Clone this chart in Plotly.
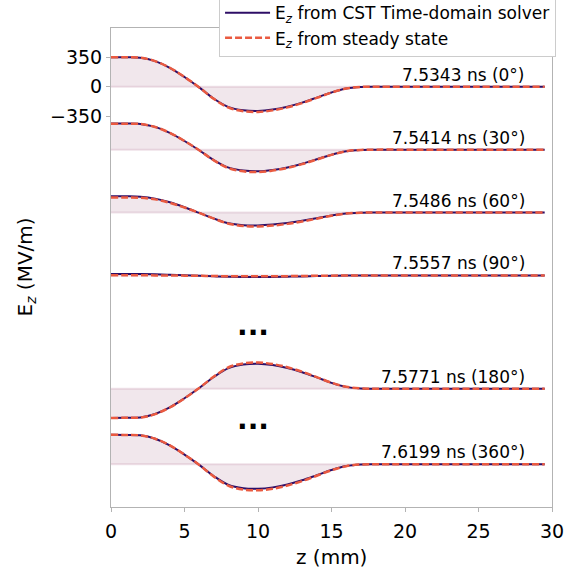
import plotly.graph_objects as go

# Axial position along the cavity (mm)
z_mm = [0, 1, 2, 3, 4, 5, 6, 7, 8, 9, 10, 11, 12, 13, 14, 15, 16, 17, 18, 20, 25, 29.5]

# Snapshot labels and vertical offsets used to stack the curves (MV/m)
snapshot_labels = ["7.5343 ns (0°)", "7.5414 ns (30°)", "7.5486 ns (60°)",
                   "7.5557 ns (90°)", "7.5771 ns (180°)", "7.6199 ns (360°)"]
stack_offsets = [0, -750, -1500, -2250, -3600, -4500]

# E_z from the CST time-domain solver (MV/m)
ez_cst_0 = [350, 350, 345, 305, 226, 116, -8, -143, -243, -280, -288, -272, -238, -190, -130, -68, -21, -3, 0, 0, 0, 0]
ez_cst_30 = [312, 311, 306, 271, 201, 103, -7, -126, -215, -249, -258, -242, -212, -168, -115, -60, -19, -3, 0, 0, 0, 0]
ez_cst_60 = [195, 194, 189, 166, 122, 63, -4, -72, -128, -150, -153, -143, -125, -99, -67, -35, -11, -2, 0, 0, 0, 0]
ez_cst_90 = [18, 18, 17, 14, 9, 3, -4, -10, -15, -18, -18, -17, -14, -11, -7, -4, -1, 0, 0, 0, 0, 0]
ez_cst_180 = [-348, -347, -342, -302, -223, -114, 8, 140, 245, 288, 298, 282, 247, 197, 135, 70, 22, 3, 0, 0, 0, 0]
ez_cst_360 = [350, 349, 344, 304, 225, 115, -8, -143, -247, -286, -292, -276, -241, -192, -131, -69, -22, -3, 0, 0, 0, 0]

# E_z from the steady-state field (MV/m)
ez_ss_0 = [350, 350, 345, 305, 226, 116, -8, -145, -250, -292, -301, -282, -246, -195, -133, -70, -22, -3, 0, 0, 0, 0]
ez_ss_30 = [310, 309, 305, 270, 200, 103, -7, -128, -221, -259, -267, -250, -218, -173, -118, -62, -19, -3, 0, 0, 0, 0]
ez_ss_60 = [180, 179, 176, 157, 116, 60, -4, -73, -133, -160, -165, -155, -135, -107, -73, -38, -12, -2, 0, 0, 0, 0]
ez_ss_90 = [2, 2, 2, 1, 0, -2, -4, -7, -9, -10, -10, -9, -8, -6, -4, -2, -1, 0, 0, 0, 0, 0]
ez_ss_180 = [-348, -347, -343, -303, -224, -115, 8, 145, 256, 302, 312, 294, 256, 203, 138, 72, 23, 3, 0, 0, 0, 0]
ez_ss_360 = [350, 349, 344, 304, 225, 115, -8, -148, -257, -302, -310, -292, -254, -201, -137, -72, -23, -3, 0, 0, 0, 0]

cst_series = [ez_cst_0, ez_cst_30, ez_cst_60, ez_cst_90, ez_cst_180, ez_cst_360]
ss_series = [ez_ss_0, ez_ss_30, ez_ss_60, ez_ss_90, ez_ss_180, ez_ss_360]

y_ticks = [350, 0, -350]

CST_COLOR = "#2e0e66"
SS_COLOR = "#ea5a40"
FILL_COLOR = "rgba(120,20,70,0.10)"
BASE_COLOR = "rgba(120,20,70,0.12)"
AXIS_COLOR = "#b3b3b3"
FONT = "DejaVu Sans"

fig = go.Figure()

# Shaded area between each steady-state curve and its zero line
for off, ss in zip(stack_offsets, ss_series):
    fig.add_trace(go.Scatter(
        x=z_mm, y=[off] * len(z_mm), mode="lines",
        line=dict(color=BASE_COLOR, width=2), showlegend=False, hoverinfo="skip"))
    fig.add_trace(go.Scatter(
        x=z_mm, y=[off + v for v in ss], mode="lines",
        line=dict(width=0, shape="spline"), fill="tonexty", fillcolor=FILL_COLOR,
        showlegend=False, hoverinfo="skip"))

# Time-domain solver curves
for i, (off, cst) in enumerate(zip(stack_offsets, cst_series)):
    fig.add_trace(go.Scatter(
        x=z_mm, y=[off + v for v in cst], mode="lines",
        line=dict(color=CST_COLOR, width=2, shape="spline"),
        name="E<sub><i>z</i></sub> from CST Time-domain solver",
        legendgroup="cst", showlegend=(i == 0)))

# Steady-state curves (dashed, drawn on top)
for i, (off, ss) in enumerate(zip(stack_offsets, ss_series)):
    fig.add_trace(go.Scatter(
        x=z_mm, y=[off + v for v in ss], mode="lines",
        line=dict(color=SS_COLOR, width=2.5, dash="7px,3px", shape="spline"),
        name="E<sub><i>z</i></sub> from steady state",
        legendgroup="ss", showlegend=(i == 0)))

annotations = []
for off, lab in zip(stack_offsets, snapshot_labels):
    annotations.append(dict(
        x=28.3, y=off, xref="x", yref="y", text=lab, showarrow=False,
        xanchor="right", yanchor="bottom", yshift=0,
        font=dict(family=FONT, size=17, color="black")))

# Ellipses marking omitted snapshots
for yv in (-2937, -4057):
    annotations.append(dict(
        x=9.67, y=yv, xref="x", yref="y", text="<b>...</b>", showarrow=False,
        xanchor="center", yanchor="middle", yshift=8,
        font=dict(family=FONT, size=28, color="black")))

# Axis titles
annotations.append(dict(
    x=0.5, y=-0.104, xref="paper", yref="paper", text="z (mm)", showarrow=False,
    xanchor="center", yanchor="middle", font=dict(family=FONT, size=20, color="black")))
annotations.append(dict(
    x=-0.195, y=0.5, xref="paper", yref="paper", text="E<sub><i>z</i></sub> (MV/m)",
    showarrow=False, textangle=-90, xanchor="center", yanchor="middle",
    font=dict(family=FONT, size=20, color="black")))

fig.update_layout(
    width=579, height=573,
    margin=dict(l=111, r=27, t=28, b=66, autoexpand=False),
    plot_bgcolor="white", paper_bgcolor="white",
    font=dict(family=FONT, size=18, color="black"),
    annotations=annotations,
    legend=dict(
        x=0.245, y=0.939, xanchor="left", yanchor="bottom",
        bgcolor="white", bordercolor="#cccccc", borderwidth=1,
        font=dict(family=FONT, size=17, color="black"),
        itemwidth=45, tracegroupgap=0),
    xaxis=dict(
        range=[0, 30], tickvals=[0, 5, 10, 15, 20, 25, 30],
        showline=True, linecolor=AXIS_COLOR, linewidth=1, mirror=True,
        ticks="outside", ticklen=4, tickcolor=AXIS_COLOR, showgrid=False, zeroline=False,
        tickfont=dict(size=19), ticklabelstandoff=3),
    yaxis=dict(
        range=[-5010, 700], tickvals=y_ticks,
        showline=True, linecolor=AXIS_COLOR, linewidth=1, mirror=True,
        ticks="outside", ticklen=4, tickcolor=AXIS_COLOR, showgrid=False, zeroline=False,
        tickfont=dict(size=19)),
)

fig.write_html("out.html")
